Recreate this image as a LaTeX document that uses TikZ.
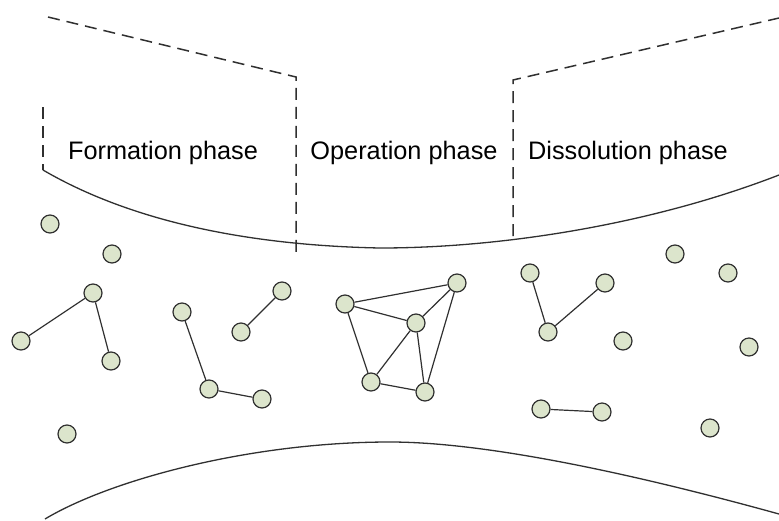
\documentclass[tikz,border=0pt]{standalone}
\usepackage{fontspec}
\setmainfont{Liberation Sans}
\definecolor{nodefill}{HTML}{DCE5CC}
\definecolor{inkline}{HTML}{303030}
\begin{document}
\begin{tikzpicture}[x=1pt,y=-1pt,
  agent/.style={circle,draw=inkline,fill=nodefill,line width=1.2pt,minimum size=18pt,inner sep=0pt},
  link/.style={draw=inkline,line width=1.2pt},
  bound/.style={draw=inkline,line width=1.3pt},
  phaseline/.style={draw=inkline,line width=1.5pt,dash pattern=on 12pt off 7pt},
  phaselabel/.style={anchor=base,font=\fontsize{25.3}{30}\selectfont,inner sep=0pt}]
\useasboundingbox (0,0) rectangle (779,520);
% boundaries
\draw[bound] (43,170) .. controls (120,215) and (230,245) .. (380,248)
  .. controls (500,248) and (650,225) .. (779,175);
\draw[bound] (45,519) .. controls (110,480) and (250,442) .. (390,442)
  .. controls (480,442) and (620,470) .. (779,514);
% phase separators
\draw[phaseline] (43,107) -- (43,170);
\draw[phaseline] (48,17) -- (296,77) -- (296,253);
\draw[phaseline] (513,236) -- (513,80) -- (779,18);
% labels
\node[phaselabel] (lf) at (163,159) {Formation phase};
\node[phaselabel] (lo) at (404,159) {Operation phase};
\node[phaselabel] (ld) at (628,159) {Dissolution phase};
% agents
\node[agent] (n1) at (50,224) {};
\node[agent] (n2) at (112,254) {};
\node[agent] (n3) at (93,293) {};
\node[agent] (n4) at (21,341) {};
\node[agent] (n5) at (111,361) {};
\node[agent] (n6) at (67,434) {};
\node[agent] (n7) at (182,312) {};
\node[agent] (n8) at (209,389) {};
\node[agent] (n9) at (262,399) {};
\node[agent] (n10) at (282,291) {};
\node[agent] (n11) at (241,332) {};
\node[agent] (ca) at (345,304) {};
\node[agent] (cb) at (457,283) {};
\node[agent] (cc) at (416,323) {};
\node[agent] (cd) at (371,382) {};
\node[agent] (ce) at (425,392) {};
\node[agent] (m1) at (530,273) {};
\node[agent] (m2) at (548,332) {};
\node[agent] (m3) at (605,283) {};
\node[agent] (m4) at (675,254) {};
\node[agent] (m5) at (728,273) {};
\node[agent] (m6) at (623,341) {};
\node[agent] (m7) at (749,347) {};
\node[agent] (m8) at (541,409) {};
\node[agent] (m9) at (602,412) {};
\node[agent] (m10) at (710,428) {};
% links
\draw[link] (n3) -- (n4);
\draw[link] (n3) -- (n5);
\draw[link] (n7) -- (n8);
\draw[link] (n8) -- (n9);
\draw[link] (n10) -- (n11);
\draw[link] (ca) -- (cb);
\draw[link] (ca) -- (cc);
\draw[link] (ca) -- (cd);
\draw[link] (cb) -- (cc);
\draw[link] (cb) -- (ce);
\draw[link] (cc) -- (cd);
\draw[link] (cc) -- (ce);
\draw[link] (cd) -- (ce);
\draw[link] (m1) -- (m2);
\draw[link] (m2) -- (m3);
\draw[link] (m8) -- (m9);
\end{tikzpicture}
\end{document}
